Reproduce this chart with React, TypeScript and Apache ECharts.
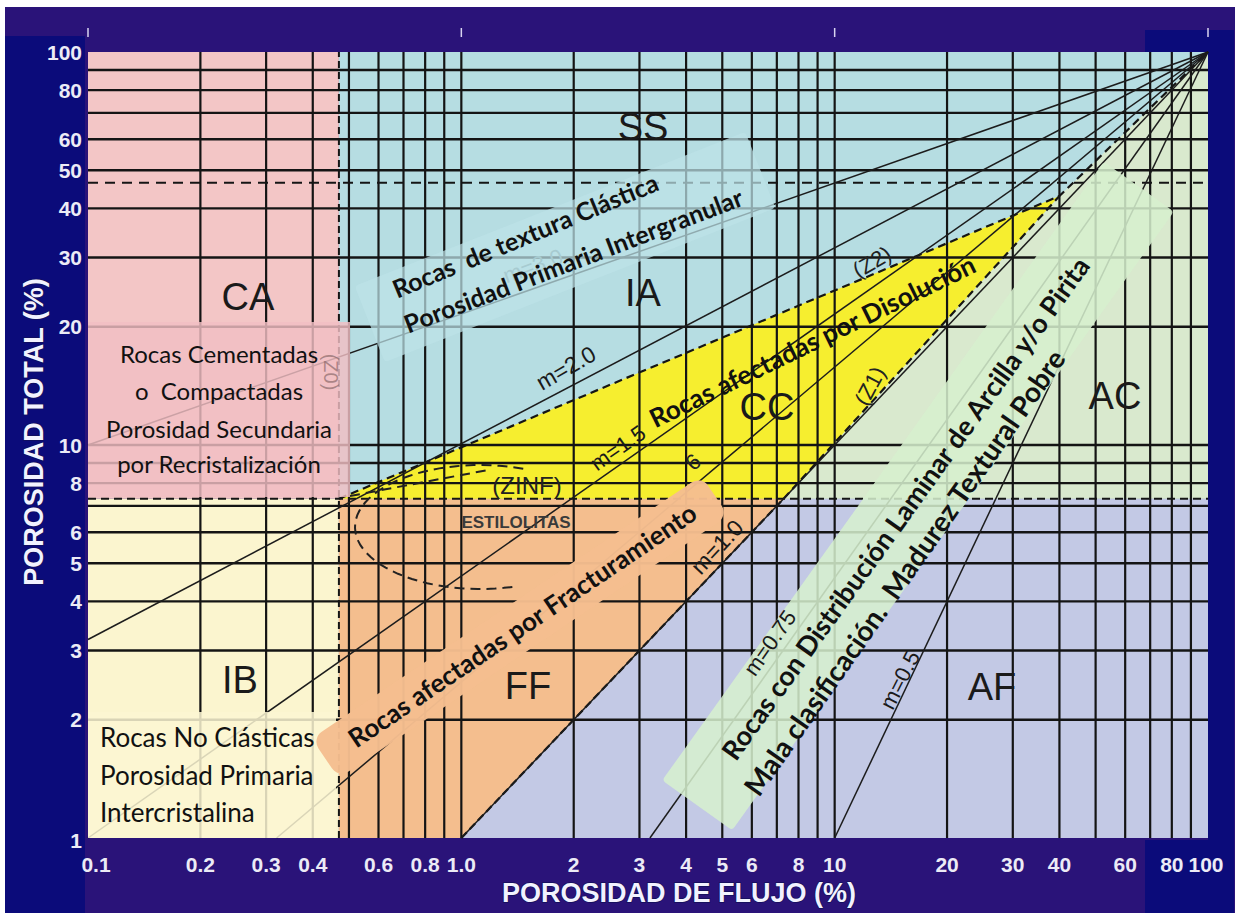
import React, { useEffect, useRef } from "react";
import * as echarts from "echarts";

// ---------- data ----------
const xTickValues = [0.1, 0.2, 0.3, 0.4, 0.6, 0.8, 1, 2, 3, 4, 5, 6, 8, 10, 20, 30, 40, 60, 80, 100];
const xTickLabels = ["0.1", "0.2", "0.3", "0.4", "0.6", "0.8", "1.0", "2", "3", "4", "5", "6", "8", "10", "20", "30", "40", "60", "80", "100"];
const yTickValues = [1, 2, 3, 4, 5, 6, 8, 10, 20, 30, 40, 50, 60, 80, 100];
const yTickLabels = ["1", "2", "3", "4", "5", "6", "8", "10", "20", "30", "40", "50", "60", "80", "100"];
const xGridValues = [0.2, 0.3, 0.4, 0.5, 0.6, 0.7, 0.8, 0.9, 1, 2, 3, 4, 5, 6, 7, 8, 9, 10, 20, 30, 40, 50, 60, 70, 80, 90];
const yGridValues = [2, 3, 4, 5, 6, 7, 8, 9, 10, 20, 30, 40, 50, 60, 70, 80, 90];
const decadeValues = [0.1, 1, 10, 100];

const cutX = 0.47; // vertical dashed boundary
const cutY = 7.3; // horizontal dashed boundary (ZINF)
const upperCutY = 46.5; // upper dashed line

const regionNames = ["CA", "IB", "SS", "AF", "FF", "AC", "CC"];
const regionXs = [
  [0.1, 0.47, 0.47, 0.1],
  [0.1, 0.47, 0.47, 0.1],
  [0.47, 100, 100, 0.47],
  [0.47, 100, 100, 0.47],
  [0.47, 1, 7.3, 0.47],
  [7.3, 100, 100, 40],
  [0.47, 7.3, 40],
];
const regionYs = [
  [7.3, 7.3, 100, 100],
  [1, 1, 7.3, 7.3],
  [7.3, 7.3, 100, 100],
  [1, 1, 7.3, 7.3],
  [1, 1, 7.3, 7.3],
  [7.3, 7.3, 100, 43],
  [7.3, 7.3, 43],
];

const mNames = ["m=3.0", "m=2.0", "m=1.5", "m=1.25", "m=1.0", "m=0.75", "m=0.5"];
const mStartX = [0.1, 0.1, 0.1, 0.32, 1, 3.2, 10];
const mStartY = [10, 3.2, 1, 1, 1, 1, 1];
const convergeX = 100;
const convergeY = 100;

const z2Xs = [0.47, 40, 100];
const z2Ys = [7.3, 43, 100];
const z1Xs = [7.3, 40];
const z1Ys = [7.3, 43];
const ffXs = [1, 7.3];
const ffYs = [1, 7.3];

// ---------- styles ----------
const regionColors: Record<string, string> = {
  CA: "#f3c6c6",
  IB: "#fbf5cf",
  SS: "#b6dde2",
  AF: "#c3c9e5",
  FF: "#f4be8e",
  AC: "#d9e9ce",
  CC: "#f6ee2f",
};
const ARIAL = "'Liberation Sans', Arial, sans-serif";
const CAL = "Lato, 'Open Sans', sans-serif";
const deg = (d: number) => (d * Math.PI) / 180;

function txt(text: string, x: number, y: number, font: string, rot = 0, fill = "#111", z = 30, extra: any = {}) {
  return {
    type: "text",
    x,
    y,
    rotation: deg(rot),
    z,
    silent: true,
    style: {
      text,
      font,
      fill,
      textAlign: "center",
      textVerticalAlign: "middle",
      align: "center",
      verticalAlign: "middle",
      ...extra,
    },
  };
}
function box(cx: number, cy: number, w: number, h: number, rot: number, fill: string, r = 6) {
  return {
    type: "rect",
    x: cx,
    y: cy,
    rotation: deg(rot),
    z: 20,
    silent: true,
    shape: { x: -w / 2, y: -h / 2, width: w, height: h, r },
    style: { fill },
  };
}

export default function App() {
  const ref = useRef<HTMLDivElement>(null);
  useEffect(() => {
    const chart = echarts.init(ref.current!, null, { renderer: "svg" });

    const lineSeries = (xs: number[], ys: number[], style: any, z = 4) => ({
      type: "line",
      data: xs.map((x, i) => [x, ys[i]]),
      showSymbol: false,
      symbol: "none",
      silent: true,
      z,
      lineStyle: style,
      clip: false,
    });

    const ellipsePts: number[][] = [];
    for (let a = 75; a <= 292; a += 4) {
      ellipsePts.push([480 + 125 * Math.cos(deg(a)), 527 + 62 * Math.sin(deg(a))]);
    }

    const option: any = {
      animation: false,
      grid: { left: 88, top: 52, width: 1120, height: 786 },
      xAxis: {
        type: "log",
        logBase: 10,
        min: 0.1,
        max: 100,
        axisLine: { show: false },
        axisTick: { show: false },
        axisLabel: { show: false },
        splitLine: { show: false },
      },
      yAxis: {
        type: "log",
        logBase: 10,
        min: 1,
        max: 100,
        axisLine: { show: false },
        axisTick: { show: false },
        axisLabel: { show: false },
        splitLine: { show: false },
      },
      series: [
        {
          type: "custom",
          z: 1,
          clip: false,
          silent: true,
          data: regionNames.map((_, i) => [regionXs[i][0], regionYs[i][0], i]),
          encode: { x: 0, y: 1 },
          renderItem: (params: any, api: any) => {
            const i = api.value(2);
            const pts = regionXs[i].map((x, k) => api.coord([x, regionYs[i][k]]));
            return { type: "polygon", shape: { points: pts }, style: { fill: regionColors[regionNames[i]] } };
          },
        },
        {
          type: "custom",
          z: 3,
          clip: false,
          silent: true,
          data: xGridValues.map((v) => [v, 1]),
          encode: { x: 0, y: 1 },
          renderItem: (params: any, api: any) => {
            const v = api.value(0);
            const a = api.coord([v, 1]);
            const b = api.coord([v, 100]);
            return { type: "line", shape: { x1: a[0], y1: a[1], x2: b[0], y2: b[1] }, style: { stroke: "#141414", lineWidth: 2.2 } };
          },
        },
        {
          type: "custom",
          z: 3,
          clip: false,
          silent: true,
          data: yGridValues.map((v) => [0.1, v]),
          encode: { x: 0, y: 1 },
          renderItem: (params: any, api: any) => {
            const v = api.value(1);
            const a = api.coord([0.1, v]);
            const b = api.coord([100, v]);
            return { type: "line", shape: { x1: a[0], y1: a[1], x2: b[0], y2: b[1] }, style: { stroke: "#141414", lineWidth: 2.4 } };
          },
        },
        // dashed boundaries
        lineSeries([0.1, 100], [upperCutY, upperCutY], { color: "#151515", width: 2, type: [10, 7] }),
        lineSeries([0.1, 100], [cutY, cutY], { color: "#151515", width: 2, type: [8, 5] }),
        lineSeries([cutX, cutX], [1, 100], { color: "#151515", width: 2, type: [7, 4] }),
        lineSeries(z2Xs, z2Ys, { color: "#151515", width: 2.2, type: [8, 5] }),
        lineSeries(z1Xs, z1Ys, { color: "#151515", width: 2.2, type: [8, 5] }),
        lineSeries(ffXs, ffYs, { color: "#151515", width: 2.2, type: [8, 4] }),
        // m lines
        ...mNames.map((_, i) =>
          lineSeries([mStartX[i], convergeX], [mStartY[i], convergeY], { color: "#1c1c1c", width: 1.5 }, 5)
        ),
        // x tick labels
        {
          type: "custom",
          z: 6,
          clip: false,
          silent: true,
          data: xTickValues.map((v, i) => [v, 1, i]),
          encode: { x: 0, y: 1 },
          renderItem: (params: any, api: any) => {
            const i = api.value(2);
            const p = api.coord([xTickValues[i], 1]);
            return {
              type: "text",
              x: p[0] + (i === 0 ? 8 : 0) + (i === xTickValues.length - 1 ? -2 : 0),
              y: p[1] + 26,
              style: {
                text: xTickLabels[i],
                font: `bold 21px ${ARIAL}`,
                fill: "#ecebf6",
                textAlign: "center",
                textVerticalAlign: "middle",
                align: "center",
                verticalAlign: "middle",
              },
            };
          },
        },
        // y tick labels
        {
          type: "custom",
          z: 6,
          clip: false,
          silent: true,
          data: yTickValues.map((v, i) => [0.1, v, i]),
          encode: { x: 0, y: 1 },
          renderItem: (params: any, api: any) => {
            const i = api.value(2);
            const p = api.coord([0.1, yTickValues[i]]);
            return {
              type: "text",
              x: p[0] - 6,
              y: p[1] + (i === 0 ? 2 : 0),
              style: {
                text: yTickLabels[i],
                font: `bold 21px ${ARIAL}`,
                fill: "#ecebf6",
                textAlign: "right",
                textVerticalAlign: "middle",
                align: "right",
                verticalAlign: "middle",
              },
            };
          },
        },
        // small white ticks at top
        {
          type: "custom",
          z: 6,
          clip: false,
          silent: true,
          data: decadeValues.map((v) => [v, 100]),
          encode: { x: 0, y: 1 },
          renderItem: (params: any, api: any) => {
            const p = api.coord([api.value(0), 100]);
            return { type: "line", shape: { x1: p[0], y1: p[1] - 24, x2: p[0], y2: p[1] - 15 }, style: { stroke: "#d8d4f0", lineWidth: 1.5 } };
          },
        },
      ],
      graphic: [
        // frame
        { type: "rect", z: 0, silent: true, shape: { x: 5, y: 7, width: 1230, height: 906 }, style: { fill: "#2a1379" } },
        { type: "rect", z: 0, silent: true, shape: { x: 5, y: 36, width: 80, height: 877 }, style: { fill: "#0b0b7a" } },
        { type: "rect", z: 0, silent: true, shape: { x: 1208, y: 30, width: 26, height: 883 }, style: { fill: "#0b0b7a" } },
        { type: "rect", z: 0, silent: true, shape: { x: 1145, y: 30, width: 70, height: 22 }, style: { fill: "#0b0b7a" } },
        { type: "rect", z: 0, silent: true, shape: { x: 1145, y: 840, width: 70, height: 73 }, style: { fill: "#0b0b7a" } },

        // faint labels under boxes
        txt("m=3.0", 533, 266, `22px ${ARIAL}`, 20, "#6f8f95", 15),
        txt("(Z0)", 331, 372, `20px ${ARIAL}`, -90, "rgba(110,80,80,0.55)", 25),

        // translucent boxes
        box(219, 409.5, 262, 175, 0, "rgba(241,190,195,0.82)", 0),
        box(212, 775, 248, 126, 0, "rgba(252,246,210,0.85)", 0),
        box(565, 247, 420, 82, 21.5, "rgba(188,226,231,0.72)", 4),
        box(520, 627, 470, 48, 34, "rgba(245,190,143,0.97)", 12),
        box(918, 496, 760, 86, 54.5, "rgba(214,240,206,0.86)", 4),

        // ellipse (estilolitas) + ZINF dashed
        {
          type: "polyline",
          z: 18,
          silent: true,
          shape: { points: ellipsePts },
          style: { stroke: "#222", lineWidth: 2, lineDash: [10, 6], fill: null },
        },
        {
          type: "line",
          z: 18,
          silent: true,
          shape: { x1: 350, y1: 496, x2: 488, y2: 470 },
          style: { stroke: "#222", lineWidth: 2, lineDash: [10, 6] },
        },

        // region labels
        txt("SS", 643, 127, `38px ${ARIAL}`, 0, "#1a1a1a"),
        txt("IA", 643, 293, `38px ${ARIAL}`, 0, "#1a1a1a"),
        txt("CA", 248, 297, `38px ${ARIAL}`, 0, "#1a1a1a"),
        txt("IB", 240, 680, `38px ${ARIAL}`, 0, "#1a1a1a"),
        txt("FF", 528, 686, `38px ${ARIAL}`, 0, "#1a1a1a"),
        txt("CC", 767, 407, `38px ${ARIAL}`, 0, "#1a1a1a"),
        txt("AC", 1115, 396, `38px ${ARIAL}`, 0, "#1a1a1a"),
        txt("AF", 992, 687, `38px ${ARIAL}`, 0, "#1a1a1a"),

        // zone labels
        txt("(ZINF)", 527, 485, `24px ${ARIAL}`, 0, "#222"),
        txt("ESTILOLITAS", 516, 522, `bold 17px ${ARIAL}`, 0, "#3a3a3a"),
        txt("(Z2)", 872, 262, `22px ${ARIAL}`, 30, "#222"),
        txt("(Z1)", 870, 386, `22px ${ARIAL}`, 62, "#222"),
        txt("6", 693, 462, `22px ${ARIAL}`, 40, "#222"),

        // m labels
        txt("m=2.0", 566, 368, `23px ${ARIAL}`, 30, "#1a1a1a"),
        txt("m=1.5", 618, 448, `22px ${ARIAL}`, 35, "#1a1a1a"),
        txt("m=1.0", 717, 547, `23px ${ARIAL}`, 47, "#1a1a1a"),
        txt("m=0.75", 770, 643, `22px ${ARIAL}`, 55, "#1a1a1a"),
        txt("m=0.5", 900, 680, `22px ${ARIAL}`, 63, "#1a1a1a"),

        // annotation texts
        txt("Rocas Cementadas", 219, 353, `24px ${CAL}`),
        txt("o  Compactadas", 219, 390, `24px ${CAL}`),
        txt("Porosidad Secundaria", 219, 428, `24px ${CAL}`),
        txt("por Recristalización", 219, 463, `24px ${CAL}`),

        txt("Rocas No Clásticas", 100, 737, `26px ${CAL}`, 0, "#111", 30, { textAlign: "left", align: "left" }),
        txt("Porosidad Primaria", 100, 775, `26px ${CAL}`, 0, "#111", 30, { textAlign: "left", align: "left" }),
        txt("Intercristalina", 100, 812, `26px ${CAL}`, 0, "#111", 30, { textAlign: "left", align: "left" }),

        txt("Rocas  de textura Clástica", 525, 235, `bold 25px ${CAL}`, 22.5),
        txt("Porosidad Primaria Intergranular", 573, 260, `bold 25px ${CAL}`, 21),

        txt("Rocas afectadas por Disolución", 812, 341, `bold 26px ${CAL}`, 26),
        txt("Rocas afectadas por Fracturamiento", 522, 625, `bold 26px ${CAL}`, 34),

        txt("Rocas con Distribución Laminar de Arcilla y/o Pirita", 905, 508, `bold 27px ${CAL}`, 54.4),
        txt("Mala clasificación.  Madurez Textural Pobre", 904, 572, `bold 28px ${CAL}`, 55),

        // axis titles
        txt("POROSIDAD TOTAL (%)", 34, 432, `bold 27px ${ARIAL}`, 90, "#f2f2ff", 30, {
          stroke: "#12105a",
          lineWidth: 1.5,
        }),
        txt("POROSIDAD DE FLUJO (%)", 679, 893, `bold 27px ${ARIAL}`, 0, "#f2f2ff", 30, {
          stroke: "#12105a",
          lineWidth: 1.5,
        }),
      ],
    };

    chart.setOption(option);
    return () => chart.dispose();
  }, []);

  return (
    <div
      ref={ref}
      style={{ position: "fixed", left: 0, top: 0, width: 1243, height: 915, background: "#ffffff" }}
    />
  );
}
